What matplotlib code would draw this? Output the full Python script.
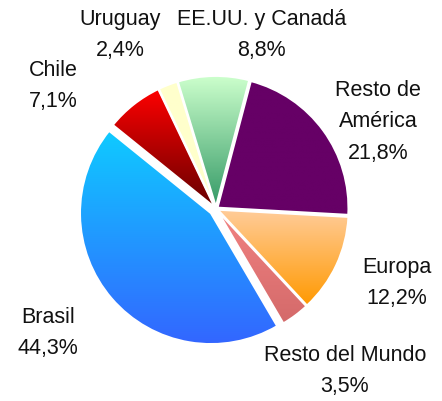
import numpy as np
import matplotlib
matplotlib.use("Agg")
import matplotlib.pyplot as plt
from matplotlib.colors import LinearSegmentedColormap

plt.rcParams['font.family'] = ['Liberation Sans', 'DejaVu Sans']

# data, clockwise from the top
regions = ['EE.UU. y Canadá', 'Resto de\nAmérica', 'Europa', 'Resto del Mundo',
           'Brasil', 'Chile', 'Uruguay']
shares = [8.8, 21.8, 12.2, 3.5, 44.3, 7.1, 2.4]
pct_labels = ['8,8%', '21,8%', '12,2%', '3,5%', '44,3%', '7,1%', '2,4%']

# gradient colours (top, bottom) per slice
grads = [('#CCFFCC', '#339966'), ('#660066', '#660066'), ('#FFCC99', '#FF9900'),
         ('#F28282', '#D46A6A'), ('#0FCBFF', '#3366FF'), ('#FF0000', '#660000'),
         ('#FFFFCC', '#FFFFCC')]
explode = [0.015, 0.015, 0.015, 0.015, 0.05, 0.015, 0.015]
# label positions (data units, radius = 1)
label_xy = [(0.35, 1.336), (1.237, 0.672), (1.382, -0.557), (0.985, -1.229),
            (-1.282, -0.939), (-1.244, 0.947), (-0.733, 1.336)]

fig = plt.figure(figsize=(4.42, 4.02), dpi=100)
ax = fig.add_axes([0.044, -0.011, 0.889, 0.978])

wedges, _ = ax.pie(shares, startangle=106.9, counterclock=False, explode=explode,
                   wedgeprops=dict(edgecolor='white', linewidth=1.5))

grad = np.linspace(0, 1, 256).reshape(-1, 1)
for w, (ctop, cbot) in zip(wedges, grads):
    ext = w.get_path().get_extents()
    cmap = LinearSegmentedColormap.from_list('g', [ctop, cbot])
    im = ax.imshow(grad, cmap=cmap, aspect='auto', origin='upper',
                   extent=[ext.x0, ext.x1, ext.y0, ext.y1], zorder=1)
    im.set_clip_path(w)
    w.set_facecolor('none')
    w.set_zorder(3)

for name, pct, (x, y) in zip(regions, pct_labels, label_xy):
    ax.text(x, y, name + '\n' + pct, ha='center', va='center', fontsize=15.5,
            color='#111111', linespacing=1.65)

ax.set_xlim(-1.5, 1.5)
ax.set_ylim(-1.5, 1.5)
ax.set_aspect('equal')
ax.axis('off')

fig.savefig('out.png', dpi=100)
